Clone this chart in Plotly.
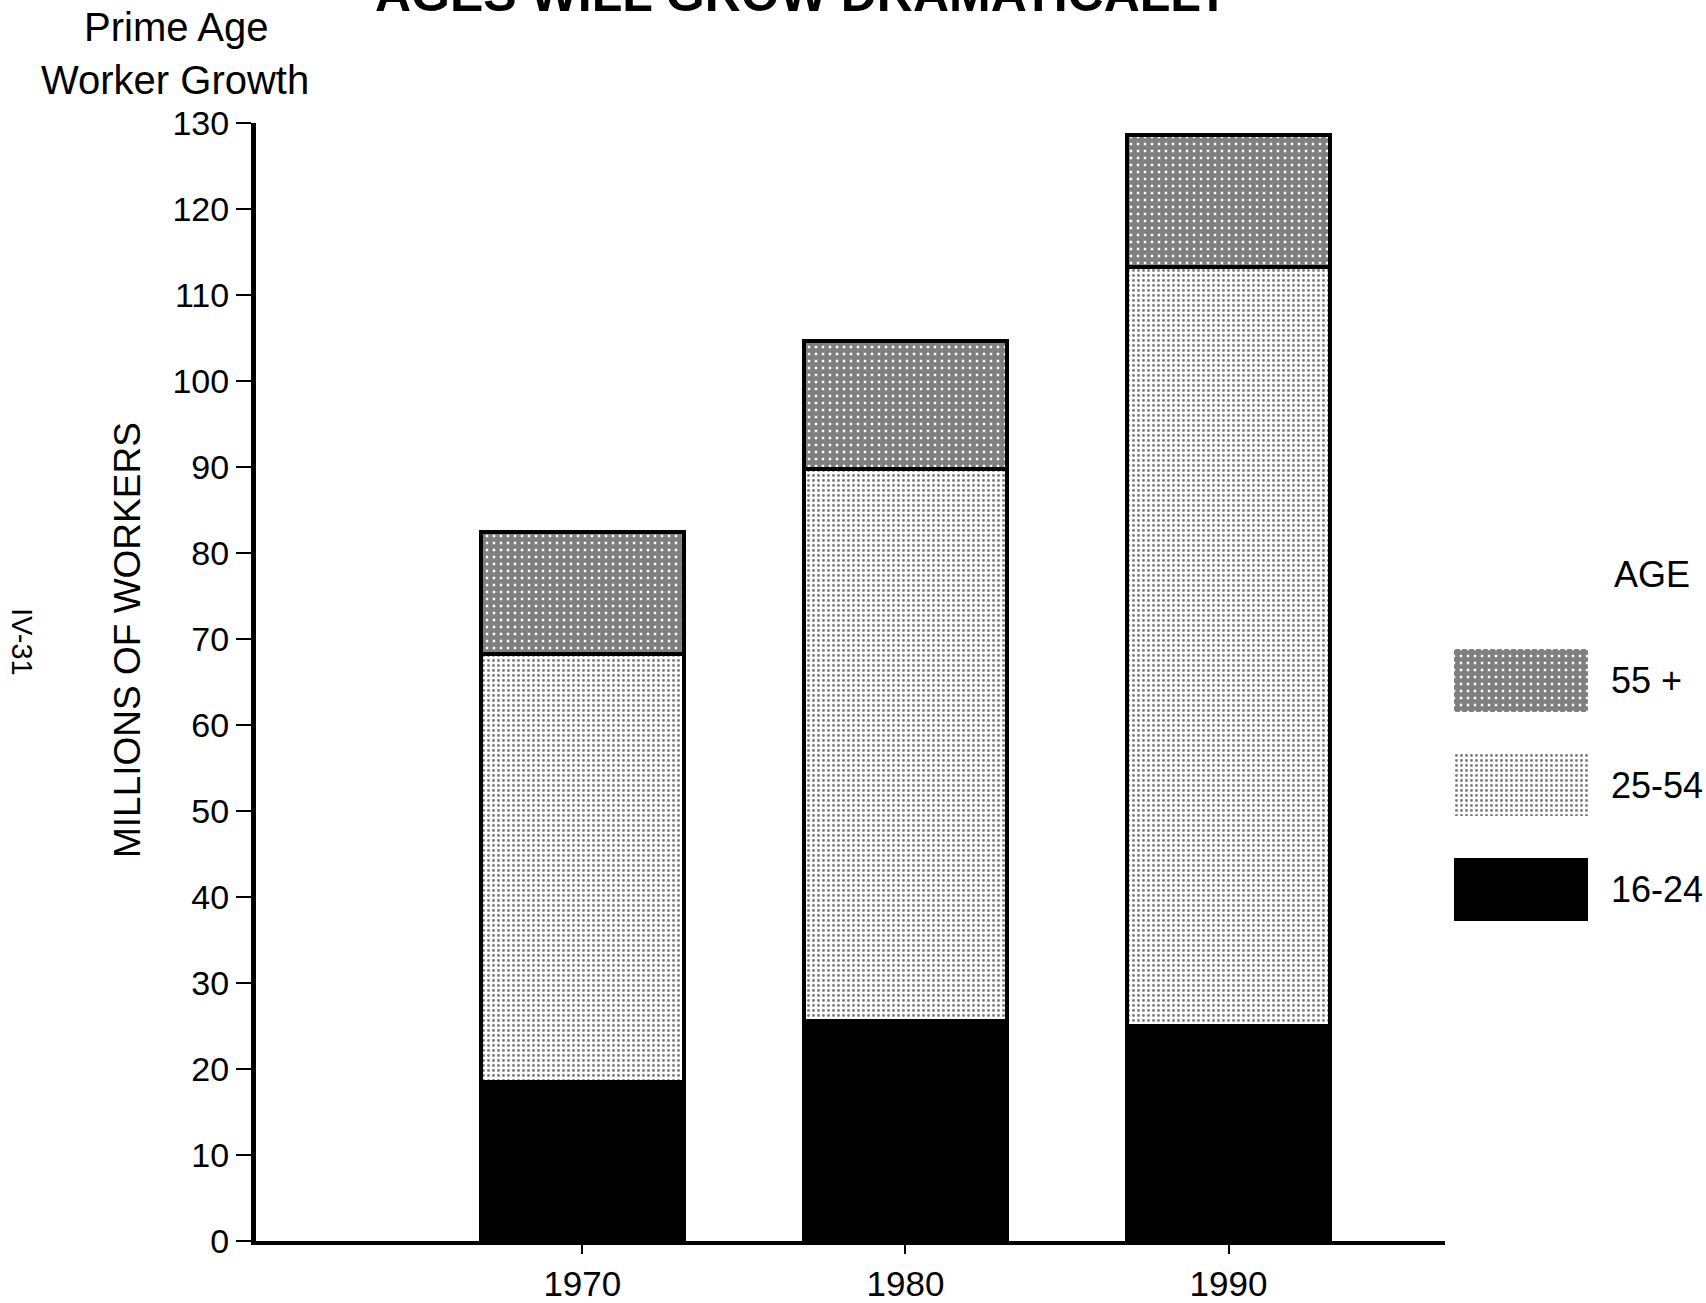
import plotly.graph_objects as go

# ---- data ----
years = ["1970", "1980", "1990"]
age_16_24 = [18.5, 25.6, 25.0]
age_25_54 = [49.7, 64.2, 88.2]
age_55_plus = [14.3, 14.8, 15.4]
legend_groups = ["16-24", "25-54", "55 +"]
y_ticks = list(range(0, 131, 10))

W, H = 1706, 1303
ML, MR, MT, MB = 256, 0, 123, 62
PW = W - ML - MR
PH = H - MT - MB


def px(xp):
    return (xp - ML) / PW


def py(yp):
    return (H - MB - yp) / PH


FONT = "Liberation Sans, Arial, Helvetica, sans-serif"

pat_55 = dict(shape="+", fgcolor="black", bgcolor="white", size=7, solidity=0.88)
pat_25 = dict(shape=".", fgcolor="black", bgcolor="white", size=5, solidity=0.28)

xpos = list(range(len(years)))

fig = go.Figure()
fig.add_trace(go.Bar(x=xpos, y=age_16_24, width=0.63,
                     marker=dict(color="black", line=dict(color="black", width=4)),
                     showlegend=False, name="16-24"))
fig.add_trace(go.Bar(x=xpos, y=age_25_54, width=0.63,
                     marker=dict(color="white", pattern=pat_25, line=dict(color="black", width=4)),
                     showlegend=False, name="25-54"))
fig.add_trace(go.Bar(x=xpos, y=age_55_plus, width=0.63,
                     marker=dict(color="white", pattern=pat_55, line=dict(color="black", width=4)),
                     showlegend=False, name="55 +"))

# legend swatches drawn as bars on their own small axes
leg_y = list(range(len(legend_groups)))
leg_markers = [
    dict(color="black", line=dict(width=0)),
    dict(color="white", pattern=pat_25, line=dict(width=0)),
    dict(color="white", pattern=pat_55, line=dict(width=0)),
]
for i, g in enumerate(legend_groups):
    fig.add_trace(go.Bar(x=[1], y=[leg_y[i]], orientation="h", width=0.6,
                         marker=leg_markers[i], xaxis="x2", yaxis="y2",
                         showlegend=False, name=g))

fig.update_layout(
    width=W, height=H,
    margin=dict(l=ML, r=MR, t=MT, b=MB, autoexpand=False),
    plot_bgcolor="white", paper_bgcolor="white",
    barmode="stack",
    font=dict(family=FONT, color="black", size=34),
    xaxis=dict(domain=[0, px(1445)], range=[-1.01, 2.67],
               tickvals=xpos, ticktext=years, automargin=False,
               showline=True, linecolor="black", linewidth=4,
               ticks="outside", ticklen=9, tickwidth=2, tickcolor="black",
               ticklabelstandoff=0,
               tickfont=dict(size=35, family=FONT),
               showgrid=False, zeroline=False),
    yaxis=dict(range=[0, 130], tickvals=y_ticks, automargin=False,
               showline=True, linecolor="black", linewidth=5,
               ticks="outside", ticklen=15, tickwidth=2, tickcolor="black",
               tickfont=dict(size=34, family=FONT),
               showgrid=False, zeroline=False),
    xaxis2=dict(domain=[px(1454), px(1588)], range=[0, 1], anchor="y2",
                visible=False, fixedrange=True),
    yaxis2=dict(domain=[py(942), py(628)], range=[-0.5, 2.5], anchor="x2",
                visible=False, fixedrange=True),
)

ann = []
ann.append(dict(text="<b>AGES WILL GROW DRAMATICALLY</b>", xref="paper", yref="paper",
                x=px(802), y=py(-6), xanchor="center", yanchor="middle",
                showarrow=False, font=dict(size=50, family=FONT)))
ann.append(dict(text="Prime Age", xref="paper", yref="paper", x=px(176), y=py(27),
                xanchor="center", yanchor="middle", showarrow=False,
                font=dict(size=40, family=FONT)))
ann.append(dict(text="Worker Growth", xref="paper", yref="paper", x=px(175), y=py(80),
                xanchor="center", yanchor="middle", showarrow=False,
                font=dict(size=40, family=FONT)))
ann.append(dict(text="MILLIONS OF WORKERS", xref="paper", yref="paper", x=px(127), y=py(640),
                xanchor="center", yanchor="middle", textangle=-90, showarrow=False,
                font=dict(size=37, family=FONT)))
ann.append(dict(text="IV-31", xref="paper", yref="paper", x=px(22), y=py(642),
                xanchor="center", yanchor="middle", textangle=90, showarrow=False,
                font=dict(size=29, family=FONT)))
ann.append(dict(text="AGE", xref="paper", yref="paper", x=px(1612), y=py(574),
                xanchor="left", yanchor="middle", showarrow=False,
                font=dict(size=36, family=FONT)))
for i, g in enumerate(legend_groups):
    ann.append(dict(text=g, xref="paper", yref="y2", x=px(1609), y=leg_y[i],
                    xanchor="left", yanchor="middle", showarrow=False,
                    font=dict(size=36, family=FONT)))
fig.update_layout(annotations=ann)

fig.write_html("out.html")
